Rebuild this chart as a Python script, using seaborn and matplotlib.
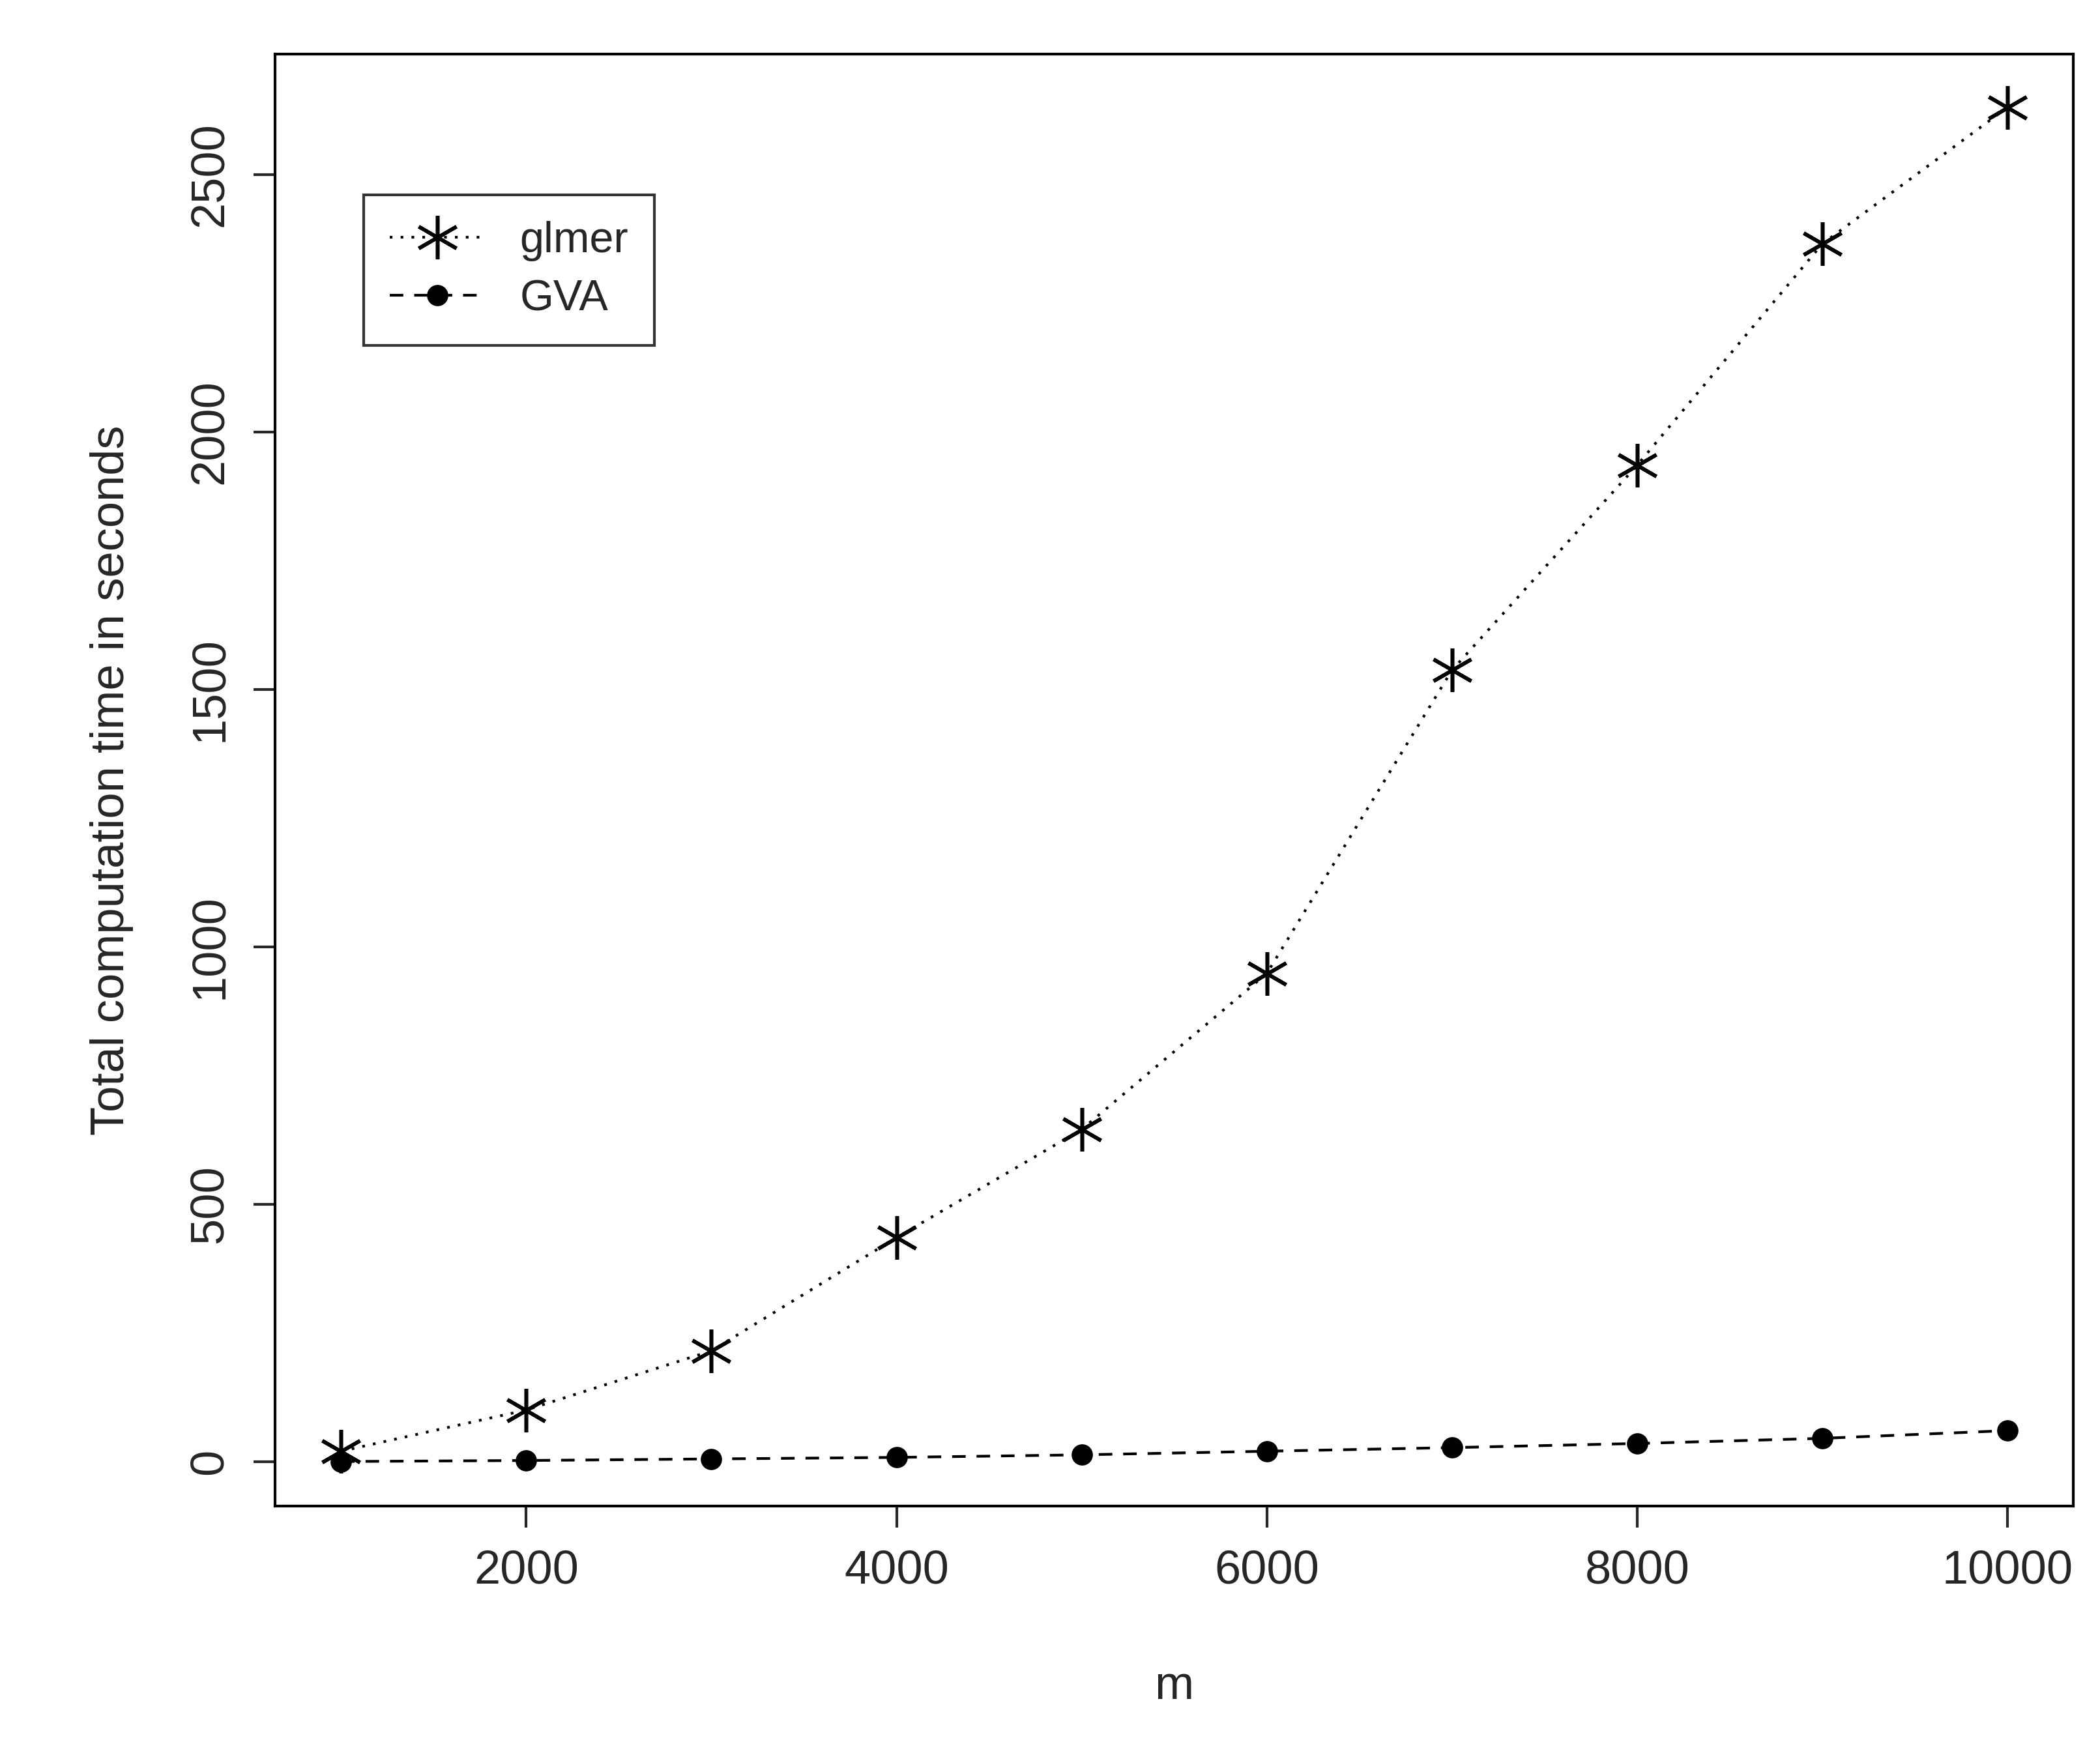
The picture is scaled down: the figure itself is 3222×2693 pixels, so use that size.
import numpy as np
import pandas as pd
import matplotlib
matplotlib.use("Agg")
import matplotlib.pyplot as plt
import seaborn as sns

m = [1000, 2000, 3000, 4000, 5000, 6000, 7000, 8000, 9000, 10000]
glmer = [20, 100, 215, 435, 645, 948, 1537, 1935, 2365, 2630]
gva = [0, 2, 5, 8, 13, 20, 27, 35, 45, 60]

sns.set_style("white")
plt.rcParams['font.family'] = ['Liberation Sans', 'DejaVu Sans']

fig = plt.figure(figsize=(16.115, 13.465), dpi=200)
ax = fig.add_axes([0.131, 0.142, 0.856, 0.827])

df = pd.DataFrame({"m": m, "glmer": glmer, "GVA": gva})
sns.lineplot(data=df, x="m", y="glmer", ax=ax, color="black", linestyle=(0, (1, 3)),
             lw=1.5, marker=(6, 2, 0), markersize=24, markeredgewidth=2,
             markeredgecolor="black", label="glmer")
sns.lineplot(data=df, x="m", y="GVA", ax=ax, color="black", linestyle=(0, (5, 4)),
             lw=1.5, marker="o", markersize=11, markeredgecolor="black", label="GVA")

ax.set_xlim(644, 10356)
ax.set_ylim(-86, 2733)
ax.set_xticks([2000, 4000, 6000, 8000, 10000])
ax.set_yticks([0, 500, 1000, 1500, 2000, 2500])
ax.tick_params(axis="both", labelsize=26, length=12, width=1.5, direction="out",
               left=True, bottom=True, pad=12)
for lbl in ax.get_yticklabels():
    lbl.set_rotation(90)
    lbl.set_va("center")
for s in ax.spines.values():
    s.set_linewidth(1.5)
    s.set_color("black")
ax.set_xlabel("m", fontsize=26, labelpad=40)
ax.set_ylabel("Total computation time in seconds", fontsize=26, labelpad=30)

leg = ax.legend(loc="upper left", bbox_to_anchor=(0.037, 0.918), fontsize=24,
                frameon=True, fancybox=False, edgecolor="black", handlelength=2.2,
                borderpad=0.6, labelspacing=0.4)
leg.get_frame().set_linewidth(1.5)

fig.savefig("out.png", dpi=200)
